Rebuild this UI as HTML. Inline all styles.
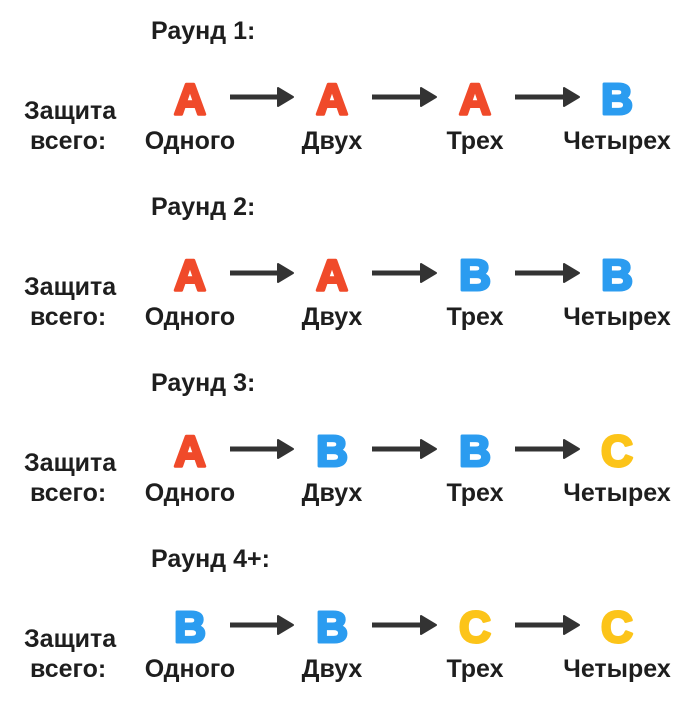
<!DOCTYPE html>
<html><head><meta charset="utf-8"><style>
html,body{margin:0;padding:0;background:#fff;width:700px;height:712px;overflow:hidden}
svg text{font-family:"Liberation Sans",sans-serif;font-weight:bold}
.t{font-size:25px;fill:#1e1e1e}
.l{font-size:25px;fill:#1e1e1e;text-anchor:middle}
.g{font-size:44px;text-anchor:middle;stroke-width:3;stroke-linejoin:round}
.A{fill:#f04a2a;stroke:#f04a2a}
.B{fill:#2b9cf0;stroke:#2b9cf0}
.C{fill:#fcc419;stroke:#fcc419}
</style></head><body>
<svg width="700" height="712" viewBox="0 0 700 712" xmlns="http://www.w3.org/2000/svg">
<defs>
<g id="arrows" fill="#333" stroke="#333">
<line x1="230" y1="97" x2="280" y2="97" stroke-width="5"/><polygon points="278,88 293,97 278,106" stroke-width="2" stroke-linejoin="round"/>
<line x1="372" y1="97" x2="423" y2="97" stroke-width="5"/><polygon points="421,88 436,97 421,106" stroke-width="2" stroke-linejoin="round"/>
<line x1="515" y1="97" x2="566" y2="97" stroke-width="5"/><polygon points="564,88 579,97 564,106" stroke-width="2" stroke-linejoin="round"/>
</g>
<g id="labels">
<text class="t" x="24" y="119">Защита</text>
<text class="t" x="30" y="149">всего:</text>
<text class="l" x="190" y="149">Одного</text>
<text class="l" x="332" y="149">Двух</text>
<text class="l" x="475" y="149">Трех</text>
<text class="l" x="617" y="149">Четырех</text>
</g>
</defs>

<g>
<text class="t" x="151" y="39">Раунд 1:</text>
<use href="#arrows"/><use href="#labels"/>
<text class="g A" x="190" y="114">A</text><text class="g A" x="332" y="114">A</text><text class="g A" x="475" y="114">A</text><text class="g B" x="617" y="114">B</text>
</g>
<g transform="translate(0,176)">
<text class="t" x="151" y="39">Раунд 2:</text>
<use href="#arrows"/><use href="#labels"/>
<text class="g A" x="190" y="114">A</text><text class="g A" x="332" y="114">A</text><text class="g B" x="475" y="114">B</text><text class="g B" x="617" y="114">B</text>
</g>
<g transform="translate(0,352)">
<text class="t" x="151" y="39">Раунд 3:</text>
<use href="#arrows"/><use href="#labels"/>
<text class="g A" x="190" y="114">A</text><text class="g B" x="332" y="114">B</text><text class="g B" x="475" y="114">B</text><text class="g C" x="617" y="114">C</text>
</g>
<g transform="translate(0,528)">
<text class="t" x="151" y="39">Раунд 4+:</text>
<use href="#arrows"/><use href="#labels"/>
<text class="g B" x="190" y="114">B</text><text class="g B" x="332" y="114">B</text><text class="g C" x="475" y="114">C</text><text class="g C" x="617" y="114">C</text>
</g>
</svg>
</body></html>
